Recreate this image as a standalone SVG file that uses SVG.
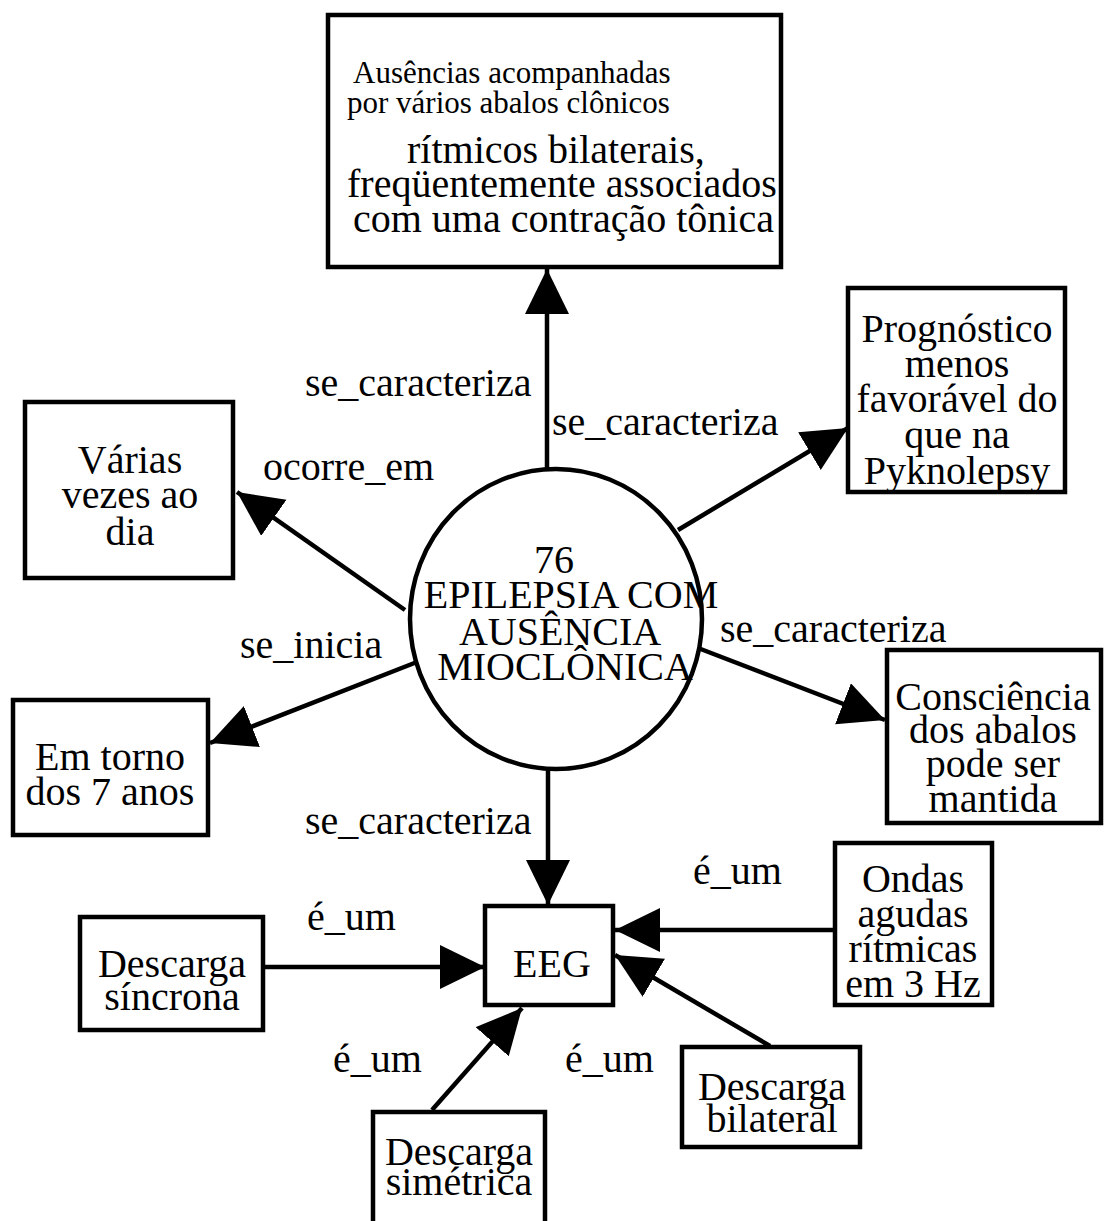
<svg xmlns="http://www.w3.org/2000/svg" width="1107" height="1221" viewBox="0 0 1107 1221">
  <style>
    .box { fill: #fff; stroke: #000; stroke-width: 4.5; }
    .txt { font-family: "Liberation Serif", "Times New Roman", serif; font-size: 40px; fill: #000; }
    .sm { font-size: 31px; }
    .mid { text-anchor: middle; }
    .edge { stroke: #000; stroke-width: 4.5; fill: none; marker-end: url(#arrow); }
  </style>
  <defs>
    <marker id="arrow" markerUnits="userSpaceOnUse" markerWidth="46" markerHeight="46" refX="45" refY="22" orient="auto">
      <path d="M0,0 L45,22 L0,44 z" fill="#000"/>
    </marker>
  </defs>
  <rect width="1107" height="1221" fill="#fff"/>

  <!-- connectors -->
  <g id="connectors">
    <line class="edge" x1="547" y1="468" x2="547" y2="269"/>
    <line class="edge" x1="678" y1="530" x2="848" y2="428"/>
    <line class="edge" x1="405" y1="610" x2="237" y2="492"/>
    <line class="edge" x1="417" y1="662" x2="210" y2="743"/>
    <line class="edge" x1="698" y1="648" x2="885" y2="720"/>
    <line class="edge" x1="548" y1="770" x2="548" y2="905"/>
    <line class="edge" x1="263" y1="967" x2="485" y2="967"/>
    <line class="edge" x1="835" y1="930" x2="615" y2="930"/>
    <line class="edge" x1="770" y1="1046" x2="615" y2="955"/>
    <line class="edge" x1="432" y1="1110" x2="522" y2="1008"/>

    <text class="txt" x="305" y="396">se_caracteriza</text>
    <text class="txt" x="552" y="435">se_caracteriza</text>
    <text class="txt" x="263" y="480">ocorre_em</text>
    <text class="txt" x="240" y="658">se_inicia</text>
    <text class="txt" x="720" y="642">se_caracteriza</text>
    <text class="txt" x="305" y="834">se_caracteriza</text>
    <text class="txt" x="693" y="884">é_um</text>
    <text class="txt" x="307" y="930">é_um</text>
    <text class="txt" x="333" y="1072">é_um</text>
    <text class="txt" x="565" y="1072">é_um</text>
  </g>

  <!-- central concept -->
  <g id="n76">
    <ellipse cx="556" cy="619" rx="146" ry="150" fill="none" stroke="#000" stroke-width="4.5"/>
    <text class="txt mid" x="554" y="573">76</text>
    <text class="txt mid" x="571" y="608">EPILEPSIA COM</text>
    <text class="txt mid" x="560" y="645">AUSÊNCIA</text>
    <text class="txt mid" x="565" y="680">MIOCLÔNICA</text>
  </g>

  <g id="ausencias">
    <rect class="box" x="328" y="15" width="453" height="252"/>
    <text class="txt sm" x="353" y="83">Ausências acompanhadas</text>
    <text class="txt sm" x="347" y="113">por vários abalos clônicos</text>
    <text class="txt" x="407" y="163">rítmicos bilaterais,</text>
    <text class="txt" x="347" y="197">freqüentemente associados</text>
    <text class="txt" x="353" y="232">com uma contração tônica</text>
  </g>

  <g id="prognostico">
    <rect class="box" x="848" y="288" width="217" height="204"/>
    <text class="txt mid" x="957" y="342">Prognóstico</text>
    <text class="txt mid" x="957" y="377">menos</text>
    <text class="txt mid" x="957" y="412">favorável do</text>
    <text class="txt mid" x="957" y="448">que na</text>
    <text class="txt mid" x="957" y="484">Pyknolepsy</text>
  </g>

  <g id="varias">
    <rect class="box" x="25" y="402" width="208" height="176"/>
    <text class="txt mid" x="130" y="473">Várias</text>
    <text class="txt mid" x="130" y="508">vezes ao</text>
    <text class="txt mid" x="130" y="545">dia</text>
  </g>

  <g id="emtorno">
    <rect class="box" x="13" y="700" width="195" height="135"/>
    <text class="txt mid" x="110" y="770">Em torno</text>
    <text class="txt mid" x="110" y="805">dos 7 anos</text>
  </g>

  <g id="consciencia">
    <rect class="box" x="887" y="650" width="214" height="173"/>
    <text class="txt mid" x="993" y="710">Consciência</text>
    <text class="txt mid" x="993" y="743">dos abalos</text>
    <text class="txt mid" x="993" y="777">pode ser</text>
    <text class="txt mid" x="993" y="812">mantida</text>
  </g>

  <g id="eeg">
    <rect class="box" x="485" y="906" width="128" height="99"/>
    <text class="txt mid" x="552" y="977">EEG</text>
  </g>

  <g id="sincrona">
    <rect class="box" x="80" y="917" width="183" height="113"/>
    <text class="txt mid" x="172" y="977">Descarga</text>
    <text class="txt mid" x="172" y="1010">síncrona</text>
  </g>

  <g id="ondas">
    <rect class="box" x="835" y="843" width="157" height="162"/>
    <text class="txt mid" x="913" y="892">Ondas</text>
    <text class="txt mid" x="913" y="927">agudas</text>
    <text class="txt mid" x="913" y="962">rítmicas</text>
    <text class="txt mid" x="913" y="997">em 3 Hz</text>
  </g>

  <g id="bilateral">
    <rect class="box" x="682" y="1047" width="178" height="100"/>
    <text class="txt mid" x="772" y="1100">Descarga</text>
    <text class="txt mid" x="772" y="1132">bilateral</text>
  </g>

  <g id="simetrica">
    <rect class="box" x="373" y="1112" width="172" height="130"/>
    <text class="txt mid" x="459" y="1165">Descarga</text>
    <text class="txt mid" x="459" y="1195">simétrica</text>
  </g>
</svg>
